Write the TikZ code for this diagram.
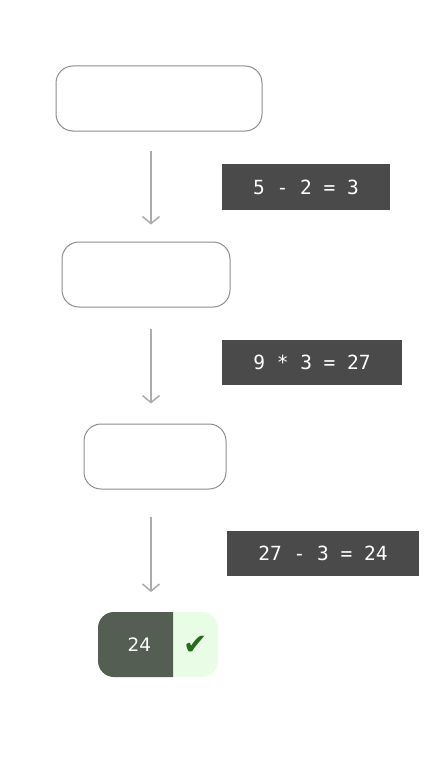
\documentclass[tikz,border=0pt]{standalone}
\usepackage{fontspec}
\setmainfont{DejaVu Sans}
\setmonofont{DejaVu Sans Mono}
\usepackage{tikz}
\usetikzlibrary{arrows.meta,positioning,calc}
\definecolor{frame}{HTML}{8E8E8E}
\definecolor{flowgray}{HTML}{ABABAB}
\definecolor{opbg}{HTML}{4A4A4A}
\definecolor{ansdark}{HTML}{545E53}
\definecolor{anslight}{HTML}{E9FDE6}
\definecolor{tick}{HTML}{276B1C}
\tikzset{
  stepbox/.style={draw=frame,line width=1pt,rounded corners=17pt,fill=white,
    minimum height=65pt,inner sep=0pt},
  opbox/.style={fill=opbg,text=white,minimum height=45.5pt,inner sep=0pt,
    font=\ttfamily\fontsize{19.5}{22}\selectfont},
  flow/.style={-{Straight Barb[length=7pt,width=17pt,line width=1.5pt]},draw=flowgray,line width=1.5pt},
  anstext/.style={text=white,inner sep=0pt,font=\fontsize{18.5}{20}\selectfont}
}
\begin{document}
\begin{tikzpicture}[x=1pt,y=-1pt]
        \useasboundingbox (0,0) rectangle (445,768);
        \coordinate (axis) at (151,0);
        % empty steps
        \node[stepbox,minimum width=206pt] (s1) at (159,98.5) {};
        \node[stepbox,minimum width=168pt] (s2) at (146,274.5) {};
        \node[stepbox,minimum width=142pt] (s3) at (155,456.5) {};
        % operations
        \node[opbox,minimum width=168pt] (op1) at (306,187) {5 - 2 = 3};
        \node[opbox,minimum width=180pt] (op2) at (312,362.5) {9 * 3 = 27};
        \node[opbox,minimum width=192pt] (op3) at (323,553.5) {27 - 3 = 24};
        % result
        \fill[anslight,rounded corners=16pt] (98,612) rectangle (218,677);
        \fill[ansdark] (173,612) [rounded corners=16pt] -- (98,612) -- (98,677) [sharp corners] -- (173,677) -- cycle;
        \node[anstext] (ans) at (139.5,645) {24};
        \node[text=tick,inner sep=0pt,font=\fontsize{29}{30}\selectfont] (ok) at (196,645) {✔};
        \coordinate (res) at (151,612);
        \draw[flow,shorten <=19pt,shorten >=17pt] (s1.south -| axis) -- (s2.north -| axis);
        \draw[flow,shorten <=21pt,shorten >=20pt] (s2.south -| axis) -- (s3.north -| axis);
        \draw[flow,shorten <=27pt,shorten >=20pt] (s3.south -| axis) -- (res);
\end{tikzpicture}
\end{document}
